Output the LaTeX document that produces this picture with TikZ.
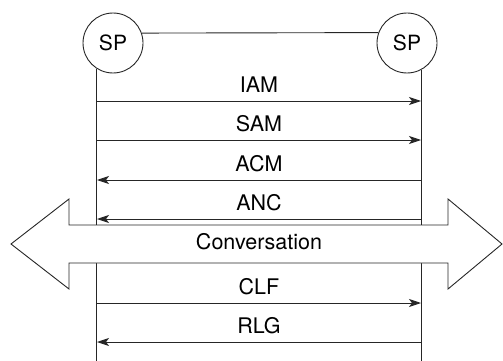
\documentclass[tikz,border=0pt]{standalone}
\usepackage{fontspec}
\setmainfont{TeX Gyre Heros}
\usetikzlibrary{arrows.meta}
\tikzset{
  ln/.style={draw=black!85, line width=0.9pt},
  sp/.style={circle, draw=black!85, line width=0.9pt, minimum size=60pt, inner sep=0pt, font=\fontsize{21}{21}\selectfont},
  msg/.style={ln, -{Stealth[length=12pt,width=8pt,inset=3pt]}},
  lbl/.style={font=\fontsize{21.5}{21.5}\selectfont, inner sep=0pt},
  conv/.style={draw=black!85, line width=0.9pt, fill=white, line join=miter}
}
\begin{document}
\begin{tikzpicture}[x=1pt, y=-1pt]
  \useasboundingbox (0,0) rectangle (503,361);
  % signalling points
  \node[sp] (spL) at (113,43) {SP};
  \node[sp] (spR) at (407,43) {SP};
  \draw[ln] (spL.19.5) -- (spR.160.5);
  % lifelines
  \coordinate (botL) at (97,361);
  \coordinate (botR) at (421,361);
  \draw[ln] (spL.238) -- (spL.238 |- botL);
  \draw[ln] (spR.298) -- (spR.298 |- botR);
  % message rows on the lifelines
  \foreach \n/\y in {iam/101, sam/140, acm/180, anc/219, clf/303, rlg/342}{
    \coordinate (\n L) at (97,\y);
    \coordinate (\n R) at (421,\y);
  }
  \draw[msg] (iamL) -- (iamR) node[lbl, midway, above=8pt] {IAM};
  \draw[msg] (samL) -- (samR) node[lbl, midway, above=8pt] {SAM};
  \draw[msg] (acmR) -- (acmL) node[lbl, midway, above=8pt] {ACM};
  \draw[msg] (ancR) -- (ancL) node[lbl, midway, above=8pt] {ANC};
  \draw[msg] (clfL) -- (clfR) node[lbl, midway, above=8pt] {CLF};
  \draw[msg] (rlgR) -- (rlgL) node[lbl, midway, above=8pt] {RLG};
  % conversation phase, double-headed block arrow
  \draw[conv] (11,244) -- (69,199) -- (69,225) -- (448,225) -- (448,199)
    -- (502,244) -- (448,289) -- (448,263) -- (69,263) -- (69,289) -- cycle;
  \node[lbl] (conv) at (259,242) {Conversation};
\end{tikzpicture}
\end{document}
